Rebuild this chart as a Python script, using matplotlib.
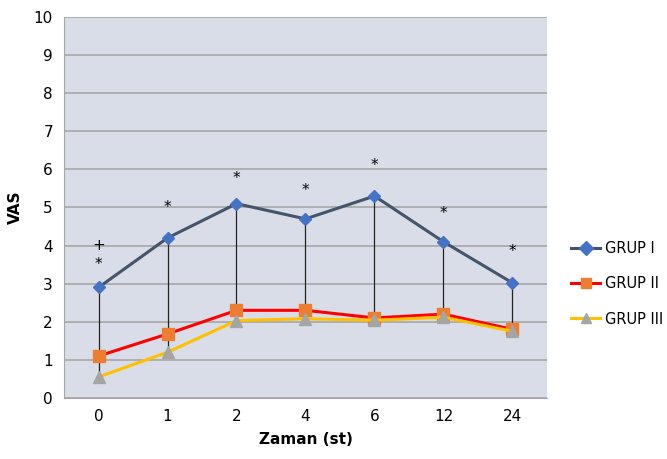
import matplotlib.pyplot as plt

# time points (hours)
zaman = ["0", "1", "2", "4", "6", "12", "24"]

grup1 = [2.9, 4.2, 5.1, 4.7, 5.3, 4.1, 3.02]
grup2 = [1.1, 1.68, 2.3, 2.3, 2.1, 2.2, 1.8]
grup3 = [0.55, 1.2, 2.03, 2.08, 2.04, 2.12, 1.75]

# significance markers (y value)
star_y = [3.5, 5.0, 5.75, 5.45, 6.1, 4.85, 3.85]
plus_y = 4.0

fig = plt.figure(figsize=(6.67, 4.59), dpi=100)
ax = fig.add_axes([0.096, 0.133, 0.724, 0.83])
ax.set_facecolor("#d8dde7")

x = list(range(len(zaman)))

# high-low lines between the groups
ax.vlines(x, grup3, grup1, color="#222222", linewidth=0.9, zorder=2)

ax.plot(x, grup1, color="#44546a", linewidth=2.2, marker="D", markersize=6,
        markerfacecolor="#4472c4", markeredgecolor="#4472c4", label="GRUP I", zorder=4)
ax.plot(x, grup2, color="#ff0000", linewidth=2.2, marker="s", markersize=9,
        markerfacecolor="#ed7d31", markeredgecolor="#ed7d31", label="GRUP II", zorder=3)
ax.plot(x, grup3, color="#ffc000", linewidth=2.2, marker="^", markersize=8,
        markerfacecolor="#a5a5a5", markeredgecolor="#a5a5a5", label="GRUP III", zorder=3)

for xi, yi in zip(x, star_y):
    ax.text(xi, yi, "*", ha="center", va="center", fontsize=11)
ax.text(0, plus_y, "+", ha="center", va="center", fontsize=11)

ax.set_xlim(-0.5, len(zaman) - 0.5)
ax.set_ylim(0, 10)
ax.set_yticks(range(0, 11))
ax.set_xticks(x)
ax.set_xticklabels(zaman)
ax.tick_params(axis="both", labelsize=11, length=0, pad=8)
ax.yaxis.grid(True, color="#a6a6a6", linewidth=1.2)
ax.set_axisbelow(True)
for side in ["top", "right"]:
    ax.spines[side].set_visible(False)
for side in ["left", "bottom"]:
    ax.spines[side].set_color("#a6a6a6")

ax.set_xlabel("Zaman (st)", fontsize=11, fontweight="bold", labelpad=6)
ax.set_ylabel("VAS", fontsize=11, fontweight="bold", labelpad=8)

leg = ax.legend(loc="center left", bbox_to_anchor=(1.05, 0.30), frameon=False,
                fontsize=10.5, labelspacing=1.4, handlelength=2.0, handletextpad=0.3,
                borderaxespad=0, borderpad=0)
for h in leg.legend_handles:
    h.set_markersize(7)

fig.savefig("out.png", dpi=100)
